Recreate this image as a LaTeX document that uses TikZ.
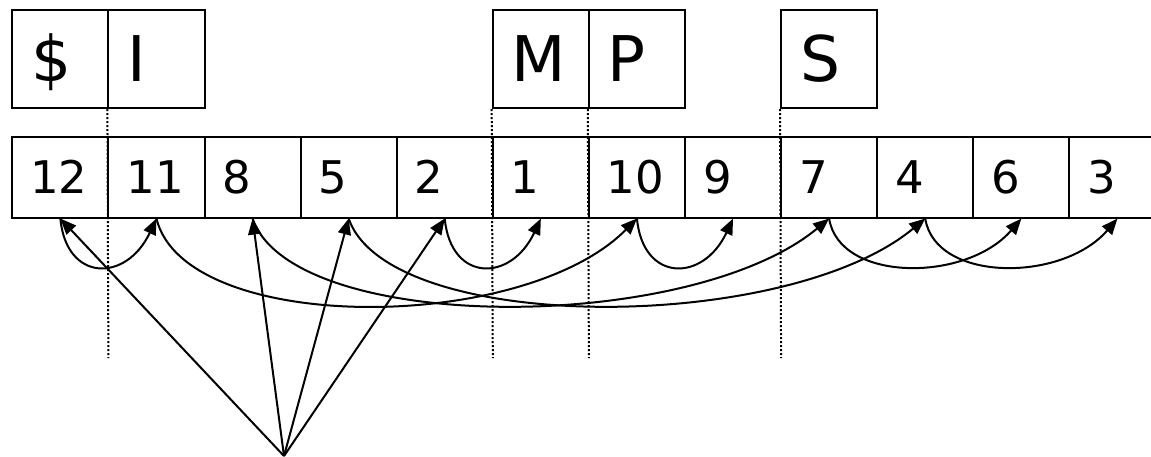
\documentclass[tikz,border=0pt]{standalone}
\usepackage{fontspec}
\setmainfont{DejaVu Sans}
\usetikzlibrary{arrows.meta}
\begin{document}
\begin{tikzpicture}[x=1pt,y=-1pt,
  cellbox/.style={draw, line width=2pt, minimum height=80.5pt, inner xsep=18pt, inner ysep=0pt,
    text width=60.1pt, align=left, font=\fontsize{45}{54}\selectfont, text height=32.8pt, text depth=0pt},
  letterbox/.style={draw, line width=2pt, minimum height=98.5pt, inner xsep=19pt, inner ysep=0pt,
    text width=58.1pt, align=left, font=\fontsize{63}{75}\selectfont, text height=46pt, text depth=-1pt},
  arr/.style={line width=2pt, -{Triangle[length=16pt,width=13pt]}},
  dotline/.style={line width=2pt, dash pattern=on 2pt off 2pt}]
\useasboundingbox (0,0) rectangle (1151,456);
% top boxes
\node[letterbox] (tD) at (60.35,58.75) {\$};
\node[letterbox] (tI) at (156.45,58.75) {I};
\node[letterbox] (tM) at (540.75,58.75) {M};
\node[letterbox] (tP) at (636.85,58.75) {P};
\node[letterbox] (tS) at (829.05,58.75) {S};
% array cells
\node[cellbox] (c12) at (60.35,177.3) {12};
\node[cellbox] (c11) at (156.45,177.3) {11};
\node[cellbox] (c8)  at (252.55,177.3) {8};
\node[cellbox] (c5)  at (348.65,177.3) {5};
\node[cellbox] (c2)  at (444.75,177.3) {2};
\node[cellbox] (c1)  at (540.85,177.3) {1};
\node[cellbox] (c10) at (636.95,177.3) {10};
\node[cellbox] (c9)  at (733.05,177.3) {9};
\node[cellbox] (c7)  at (829.15,177.3) {7};
\node[cellbox] (c4)  at (925.25,177.3) {4};
\node[cellbox] (c6)  at (1021.35,177.3) {6};
\node[cellbox] (c3)  at (1117.45,177.3) {3};
% dotted separators
\coordinate (d1) at (108.4,358);
\coordinate (d2) at (492.8,358);
\coordinate (d3) at (588.9,358);
\coordinate (d4) at (781.1,358);
\draw[dotline] (tI.south west) -- (d1);
\draw[dotline] (tM.south west) -- (d2);
\draw[dotline] (tP.south west) -- (d3);
\draw[dotline] (tS.south west) -- (d4);
% short arcs
\draw[arr] (c12.south) .. controls +(6,64) and +(-30,64) .. (c11.south);
\draw[arr] (c2.south) .. controls +(6,64) and +(-30,64) .. (c1.south);
\draw[arr] (c10.south) .. controls +(6,64) and +(-30,64) .. (c9.south);
\draw[arr] (c7.south) .. controls +(10,64) and +(-55,64) .. (c6.south);
\draw[arr] (c4.south) .. controls +(10,64) and +(-55,64) .. (c3.south);
% long arcs
\draw[arr] (c11.south) .. controls +(28,116) and +(-115,116) .. (c10.south);
\draw[arr] (c8.south) .. controls +(40,116) and +(-140,116) .. (c7.south);
\draw[arr] (c5.south) .. controls +(40,116) and +(-140,116) .. (c4.south);
% straight arrows
\coordinate (apex) at (284,456);
\draw[arr] (apex) -- (c12.south);
\draw[arr] (apex) -- (c8.south);
\draw[arr] (apex) -- (c5.south);
\draw[arr] (apex) -- (c2.south);
\end{tikzpicture}
\end{document}
